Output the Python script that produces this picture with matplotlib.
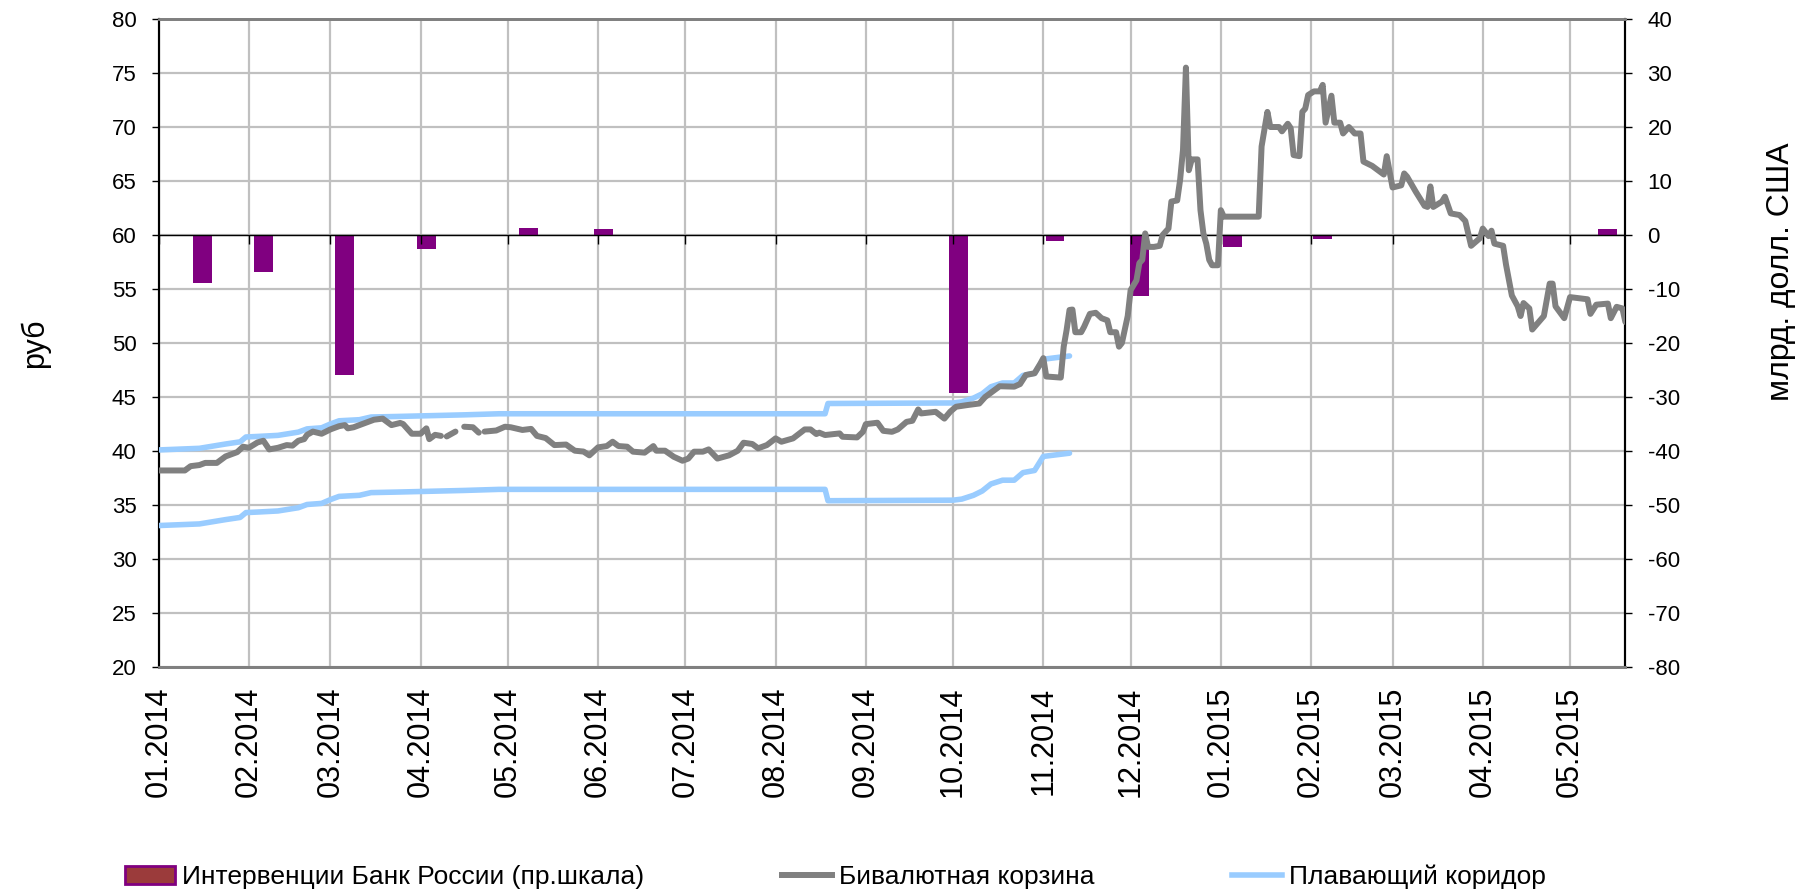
import numpy as np
import pandas as pd
import matplotlib
matplotlib.use("Agg")
import matplotlib.pyplot as plt
import matplotlib.dates as mdates
from matplotlib.patches import Patch
from matplotlib.lines import Line2D

plt.rcParams['font.family'] = ['Liberation Sans', 'DejaVu Sans']
plt.rcParams['axes.unicode_minus'] = False

# bi-currency basket, rub (NaN = missing day in the source series)
basket_dates = [
    "2014-01-01", "2014-01-10", "2014-01-12", "2014-01-15", "2014-01-17", "2014-01-21",
    "2014-01-24", "2014-01-28", "2014-01-30", "2014-02-01", "2014-02-04", "2014-02-06",
    "2014-02-08", "2014-02-11", "2014-02-14", "2014-02-16", "2014-02-18", "2014-02-20",
    "2014-02-21", "2014-02-23", "2014-02-26", "2014-03-01", "2014-03-04", "2014-03-06",
    "2014-03-07", "2014-03-09", "2014-03-13", "2014-03-16", "2014-03-19", "2014-03-22",
    "2014-03-25", "2014-03-26", "2014-03-29", "2014-04-01", "2014-04-03", "2014-04-04",
    "2014-04-06", "2014-04-08", "2014-04-09", "2014-04-10", "2014-04-13", "2014-04-14",
    "2014-04-16", "2014-04-19", "2014-04-21", "2014-04-22", "2014-04-23", "2014-04-27",
    "2014-04-30", "2014-05-02", "2014-05-06", "2014-05-09", "2014-05-11", "2014-05-14",
    "2014-05-17", "2014-05-21", "2014-05-24", "2014-05-27", "2014-05-29", "2014-06-01",
    "2014-06-04", "2014-06-06", "2014-06-08", "2014-06-11", "2014-06-13", "2014-06-17",
    "2014-06-20", "2014-06-21", "2014-06-24", "2014-06-27", "2014-06-30", "2014-07-02",
    "2014-07-04", "2014-07-07", "2014-07-09", "2014-07-12", "2014-07-16", "2014-07-19",
    "2014-07-21", "2014-07-24", "2014-07-26", "2014-07-29", "2014-08-01", "2014-08-03",
    "2014-08-07", "2014-08-11", "2014-08-13", "2014-08-15", "2014-08-16", "2014-08-18",
    "2014-08-23", "2014-08-24", "2014-08-29", "2014-08-31", "2014-09-01", "2014-09-05",
    "2014-09-07", "2014-09-10", "2014-09-12", "2014-09-15", "2014-09-17", "2014-09-19",
    "2014-09-20", "2014-09-25", "2014-09-28", "2014-09-30", "2014-10-02", "2014-10-06",
    "2014-10-10", "2014-10-12", "2014-10-17", "2014-10-22", "2014-10-24", "2014-10-26",
    "2014-10-29", "2014-10-31", "2014-11-01", "2014-11-02", "2014-11-07", "2014-11-08",
    "2014-11-09", "2014-11-10", "2014-11-11", "2014-11-12", "2014-11-14", "2014-11-15",
    "2014-11-17", "2014-11-19", "2014-11-21", "2014-11-23", "2014-11-24", "2014-11-26",
    "2014-11-27", "2014-11-28", "2014-11-30", "2014-12-01", "2014-12-03", "2014-12-04",
    "2014-12-05", "2014-12-06", "2014-12-07", "2014-12-09", "2014-12-11", "2014-12-12",
    "2014-12-14", "2014-12-15", "2014-12-17", "2014-12-18", "2014-12-19", "2014-12-20",
    "2014-12-21", "2014-12-22", "2014-12-24", "2014-12-25", "2014-12-26", "2014-12-27",
    "2014-12-28", "2014-12-29", "2014-12-31", "2015-01-01", "2015-01-02", "2015-01-14",
    "2015-01-15", "2015-01-17", "2015-01-18", "2015-01-21", "2015-01-22", "2015-01-24",
    "2015-01-25", "2015-01-26", "2015-01-28", "2015-01-29", "2015-01-30", "2015-01-31",
    "2015-02-02", "2015-02-04", "2015-02-05", "2015-02-06", "2015-02-08", "2015-02-09",
    "2015-02-11", "2015-02-12", "2015-02-14", "2015-02-16", "2015-02-18", "2015-02-19",
    "2015-02-22", "2015-02-26", "2015-02-27", "2015-03-01", "2015-03-04", "2015-03-05",
    "2015-03-06", "2015-03-09", "2015-03-12", "2015-03-13", "2015-03-14", "2015-03-15",
    "2015-03-18", "2015-03-19", "2015-03-21", "2015-03-24", "2015-03-26", "2015-03-28",
    "2015-03-31", "2015-04-01", "2015-04-03", "2015-04-04", "2015-04-05", "2015-04-08",
    "2015-04-09", "2015-04-11", "2015-04-13", "2015-04-14", "2015-04-15", "2015-04-17",
    "2015-04-18", "2015-04-22", "2015-04-24", "2015-04-25", "2015-04-26", "2015-04-29",
    "2015-05-01", "2015-05-04", "2015-05-07", "2015-05-08", "2015-05-10", "2015-05-14",
    "2015-05-15", "2015-05-17", "2015-05-19", "2015-05-20",
]
basket_values = [
    38.2, 38.2, 38.6, 38.7, 38.9, 38.9,
    39.5, 39.9, 40.4, 40.3, 40.8, 40.95,
    40.15, 40.3, 40.55, 40.5, 40.95, 41.1,
    41.5, 41.8, 41.6, 42.0, 42.3, 42.4,
    42.1, 42.2, 42.6, 42.9, 43.0, 42.4,
    42.6, 42.5, 41.6, 41.6, 42.1, 41.1,
    41.5, 41.4, np.nan, 41.35, 41.8, np.nan,
    42.25, 42.2, 41.7, np.nan, 41.8, 41.9,
    42.25, 42.2, 41.95, 42.05, 41.4, 41.2,
    40.55, 40.6, 40.03, 39.95, 39.6, 40.34,
    40.46, 40.86, 40.46, 40.4, 39.94, 39.85,
    40.46, 40.03, 40.03, 39.47, 39.1, 39.3,
    39.94, 39.94, 40.15, 39.3, 39.6, 40.03,
    40.77, 40.65, 40.25, 40.55, 41.17, 40.86,
    41.17, 42.0, 42.0, 41.57, 41.7, 41.48,
    41.63, 41.32, 41.26, 41.78, 42.49, 42.62,
    41.87, 41.78, 42.0, 42.7, 42.8, 43.85,
    43.48, 43.63, 43.0, 43.64, 44.1, 44.26,
    44.4, 45.0, 46.0, 45.96, 46.2, 47.04,
    47.2, 48.1, 48.6, 46.9, 46.8, 49.66,
    51.2, 53.06, 53.1, 51.0, 51.0, 51.5,
    52.7, 52.8, 52.3, 52.1, 51.0, 51.0,
    49.66, 50.0, 52.5, 54.9, 55.8, 57.4,
    57.7, 60.15, 58.9, 58.9, 59.0, 60.0,
    60.6, 63.1, 63.2, 65.1, 67.9, 75.5,
    66.0, 67.0, 67.0, 62.3, 60.15, 59.2,
    57.7, 57.2, 57.2, 62.3, 61.7, 61.7,
    68.2, 71.4, 70.0, 70.0, 69.6, 70.3,
    69.9, 67.4, 67.3, 71.4, 71.7, 72.96,
    73.3, 73.3, 73.9, 70.4, 72.9, 70.4,
    70.4, 69.4, 70.0, 69.4, 69.4, 66.8,
    66.4, 65.6, 67.3, 64.4, 64.6, 65.7,
    65.4, 64.0, 62.7, 62.6, 64.5, 62.6,
    63.1, 63.55, 62.0, 61.85, 61.3, 59.0,
    59.7, 60.6, 59.9, 60.4, 59.2, 59.0,
    57.25, 54.4, 53.4, 52.5, 53.7, 53.2,
    51.25, 52.5, 55.5, 55.5, 53.4, 52.3,
    54.25, 54.15, 54.05, 52.7, 53.55, 53.65,
    52.3, 53.35, 53.2, 51.95,
]

# floating corridor bounds, rub
corridor_dates = [
    "2014-01-01", "2014-01-15", "2014-01-24", "2014-01-29", "2014-01-31", "2014-02-04",
    "2014-02-11", "2014-02-18", "2014-02-21", "2014-02-26", "2014-03-01", "2014-03-04",
    "2014-03-11", "2014-03-15", "2014-03-24", "2014-04-16", "2014-04-28", "2014-08-18",
    "2014-08-19", "2014-10-01", "2014-10-04", "2014-10-08", "2014-10-11", "2014-10-14",
    "2014-10-18", "2014-10-22", "2014-10-25", "2014-10-29", "2014-11-01", "2014-11-10",
]
corridor_upper = [
    40.1, 40.25, 40.65, 40.85, 41.3, 41.35,
    41.45, 41.75, 42.05, 42.15, 42.5, 42.8,
    42.9, 43.15, 43.2, 43.35, 43.45, 43.45,
    44.4, 44.45, 44.55, 44.9, 45.3, 45.95,
    46.3, 46.3, 47.0, 47.2, 48.5, 48.8,
]
corridor_lower = [
    33.1, 33.25, 33.65, 33.85, 34.3, 34.35,
    34.45, 34.75, 35.05, 35.15, 35.5, 35.8,
    35.9, 36.15, 36.2, 36.35, 36.45, 36.45,
    35.4, 35.45, 35.55, 35.9, 36.3, 36.95,
    37.3, 37.3, 38.0, 38.2, 39.5, 39.8,
]

# Bank of Russia interventions, bn USD (right scale)
bar_dates = ["2014-01-16", "2014-02-06", "2014-03-06", "2014-04-03", "2014-05-08", "2014-06-03",
             "2014-10-03", "2014-11-05", "2014-12-04", "2015-01-05", "2015-02-05", "2015-05-14"]
bar_values = [-8.8, -6.8, -25.9, -2.6, 1.3, 1.2, -29.3, -1.1, -11.3, -2.3, -0.8, 1.2]

month_starts = pd.date_range("2014-01-01", "2015-05-01", freq="MS")

basket_x = pd.to_datetime(basket_dates)
corr_x = pd.to_datetime(corridor_dates)
bar_x = pd.to_datetime(bar_dates)

fig = plt.figure(figsize=(18.13, 8.92), dpi=100)
ax = fig.add_axes([0.0875, 0.2522, 0.809, 0.7265])
ax2 = ax.twinx()

# bars on the bottom axes, right scale
ax.bar(bar_x, bar_values, width=6.5, color="#800080", zorder=2)
ax.axhline(0, color="black", lw=1, zorder=3)
ax.vlines(month_starts, -1.6, 0, color="black", lw=1, zorder=3)
ax.set_ylim(-80, 40)
ax.set_yticks(range(-80, 41, 10))
ax.yaxis.tick_right()
ax.set_xlim(pd.Timestamp("2014-01-01"), pd.Timestamp("2015-05-20"))
ax.set_xticks(month_starts)
ax.xaxis.set_major_formatter(mdates.DateFormatter("%m.%Y"))
ax.tick_params(axis="x", length=0, pad=14, labelsize=22, labelrotation=90)
ax.tick_params(axis="y", direction="out", length=5, width=1, labelsize=16, pad=11)
ax.grid(True, color="#C0C0C0", lw=1.6)
ax.set_axisbelow(True)

# lines on the twin axes, left scale
ax2.plot(corr_x, corridor_upper, color="#99CCFF", lw=4.0, solid_capstyle="round", zorder=3)
ax2.plot(corr_x, corridor_lower, color="#99CCFF", lw=4.0, solid_capstyle="round", zorder=3)
ax2.plot(basket_x, basket_values, color="#808080", lw=4.3, solid_capstyle="round", zorder=4)
ax2.set_ylim(20, 80)
ax2.set_yticks(range(20, 81, 5))
ax2.yaxis.tick_left()
ax2.tick_params(axis="y", direction="out", length=5, width=1, labelsize=16, pad=11)

for a in (ax, ax2):
    a.spines["left"].set_color("black")
    a.spines["right"].set_color("black")
    a.spines["left"].set_linewidth(1.5)
    a.spines["right"].set_linewidth(1.5)
    a.spines["top"].set_color("#808080")
    a.spines["bottom"].set_color("#808080")
    a.spines["top"].set_linewidth(2)
    a.spines["bottom"].set_linewidth(2)

fig.text(35 / 1813, 1 - 343 / 892, "руб", rotation=90, fontsize=22, ha="center", va="center")
fig.text(1781 / 1813, 1 - 272 / 892, "млрд. долл. США", rotation=90, fontsize=23,
         ha="center", va="center")

handles = [
    Patch(facecolor="#9B3B3B", edgecolor="#800080", lw=2),
    Line2D([], [], color="#808080", lw=4.3),
    Line2D([], [], color="#99CCFF", lw=4.0),
]
labels = ["Интервенции Банк России (пр.шкала)", "Бивалютная корзина", "Плавающий коридор"]
fig.legend(handles, labels, loc="center left", bbox_to_anchor=(125 / 1813, 1 - 877 / 892),
           ncol=3, frameon=False, fontsize=19, handlelength=1.9, handletextpad=0.27,
           columnspacing=5.2, borderaxespad=0, borderpad=0)

fig.savefig("out.png", dpi=100)
